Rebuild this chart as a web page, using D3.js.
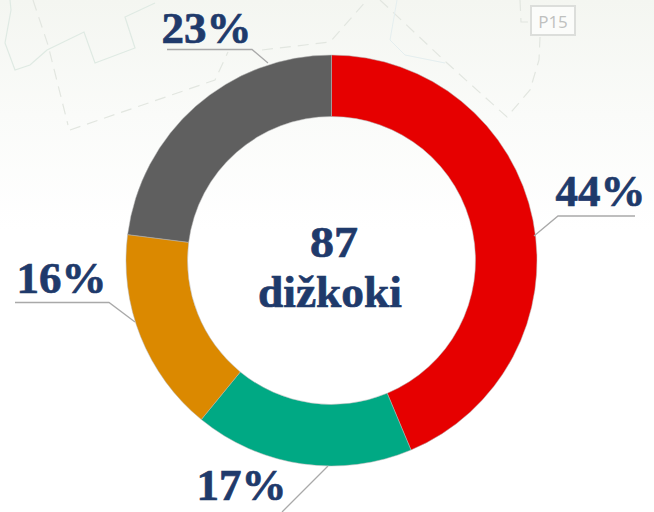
<!DOCTYPE html>
<html><head><meta charset="utf-8">
<script src="https://cdn.jsdelivr.net/npm/d3@7/dist/d3.min.js"></script>
<style>html,body{margin:0;padding:0;background:#fff}svg{display:block}</style>
</head><body>
<svg id="c" width="654" height="512"></svg>
<script>
const categories = ["A","B","C","D"];
const counts = [38,15,14,20];
const tickLabels = ["44%","17%","16%","23%"];
const sliceColors = ["#e60000","#00a984","#db8900","#5f5f5f"];
const centerLines = ["87","dižkoki"];
const labelLayout = [
  {x:600.5,y:206,line:[[635,216],[558,216],[534,236]]},
  {x:241.5,y:500,line:[[328,466],[282,512]]},
  {x:61.5,y:293,line:[[15,302.5],[109,302.5],[135,322]]},
  {x:206.5,y:43,line:[[167,49.5],[252,49.5],[268,63]]}
];
const W=654,H=512,cx=331.5,cy=260.5,R=205.5,r=144;
const FONT='"Liberation Serif",serif', INK="#1f3a6b";
const svg=d3.select("#c");
const defs=svg.append("defs");
const g=defs.append("linearGradient").attr("id","bg").attr("x1",0).attr("x2",0).attr("y1",0).attr("y2",1);
g.append("stop").attr("offset",0).attr("stop-color","#f4f6f1");
g.append("stop").attr("offset",0.5).attr("stop-color","#fafbf9");
g.append("stop").attr("offset",1).attr("stop-color","#ffffff");
svg.append("rect").attr("width",W).attr("height",230).attr("fill","url(#bg)");
svg.append("rect").attr("y",230).attr("width",W).attr("height",H-230).attr("fill","#fff");
// faint map decoration
const map=svg.append("g").attr("fill","none");
map.append("path").attr("d","M10 0L11 10L5 43L15 70L30 65L47 50L84 32L95 63L135 48L125 17L155 3").attr("stroke","#dfeae3").attr("stroke-width",1.2);
map.append("path").attr("d","M33 0L48 45L68 125M70 130L215 80L228 52M262 50L330 42L367 0M380 0L447 63L507 117L530 90L539 60L540 37M520 0L521 22L530 22")
  .attr("stroke","#e2e6e0").attr("stroke-width",1.2).attr("stroke-dasharray","11 7");
map.append("path").attr("d","M397 0L390 40L405 55L445 63").attr("stroke","#e4eeef").attr("stroke-width",1);
map.append("rect").attr("x",531).attr("y",6).attr("width",44).attr("height",29).attr("fill","#fbfcfa").attr("stroke","#dcdedb").attr("stroke-width",2);
map.append("text").attr("x",553).attr("y",28).attr("text-anchor","middle").attr("font-family","'Open Sans',sans-serif").attr("font-size",17).attr("fill","#bfc1bf").text("P15");

const pie=d3.pie().sort(null).value(d=>d)(counts);
const arc=d3.arc().innerRadius(r).outerRadius(R);
const ring=svg.append("g").attr("transform",`translate(${cx},${cy})`);
ring.selectAll("path").data(pie).join("path").attr("d",arc)
  .attr("fill",(d,i)=>sliceColors[i]).attr("stroke","#b5b5b5").attr("stroke-width",0.5);
const line=d3.line();
svg.append("g").selectAll("path").data(labelLayout).join("path")
  .attr("d",d=>line(d.line)).attr("fill","none").attr("stroke","#a9a9a9").attr("stroke-width",1.3);
svg.append("g").selectAll("text").data(labelLayout).join("text")
  .attr("x",d=>d.x).attr("y",d=>d.y).attr("text-anchor","middle")
  .attr("font-family",FONT).attr("font-weight",700).attr("font-size",45).attr("fill",INK)
  .attr("stroke",INK).attr("stroke-width",0.7)
  .attr("textLength",90).attr("lengthAdjust","spacingAndGlyphs")
  .text((d,i)=>tickLabels[i]);
svg.append("g").selectAll("text").data(centerLines).join("text")
  .attr("x",(d,i)=>i?330:334).attr("y",(d,i)=>i?306.5:256.5).attr("text-anchor","middle")
  .attr("font-family",FONT).attr("font-weight",700).attr("font-size",45).attr("fill",INK)
  .attr("stroke",INK).attr("stroke-width",0.7)
  .attr("textLength",(d,i)=>i?144:48).attr("lengthAdjust","spacingAndGlyphs")
  .text(d=>d);
</script>
</body></html>
